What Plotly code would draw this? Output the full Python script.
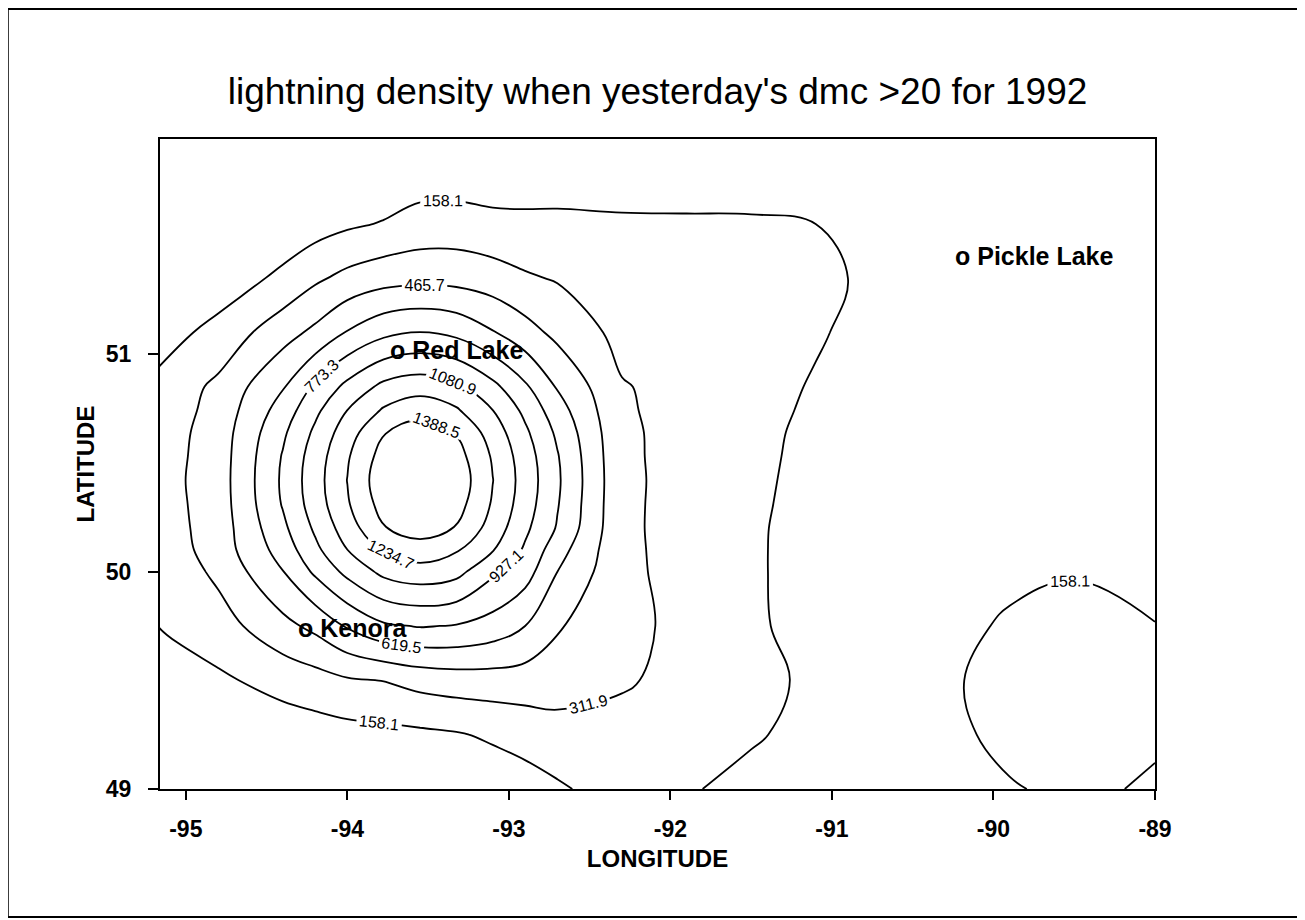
import plotly.graph_objects as go

# grid (longitude west negative, latitude north)
lon = [-95.2, -94.8, -94.4, -94.2, -94.0, -93.775, -93.55, -93.325, -93.1, -92.9,
       -92.7, -92.3, -91.9, -91.5, -91.1, -90.7, -90.3, -89.9, -89.5, -89.0]
lat = [49.0, 49.25, 49.5, 49.75, 50.0, 50.1, 50.2, 50.31, 50.42, 50.53,
       50.64, 50.74, 50.85, 51.1, 51.35, 51.6, 51.8, 52.0]

# lightning density at each grid node, one row per latitude (south to north)
density = [
    [40, 45, 48, 49, 50, 50, 50, 55, 60, 90, 138, 225, 174, 110, 60, 50, 102, 152, 175, 148],
    [45, 53, 73, 88, 103, 116, 128, 146, 181, 218, 249, 255, 215, 176, 108, 66, 138, 179, 205, 169],
    [52, 133, 212, 250, 295, 316, 365, 390, 397, 393, 386, 330, 264, 197, 132, 71, 145, 189, 232, 178],
    [152, 244, 420, 505, 635, 750, 783, 765, 710, 620, 480, 363, 264, 179, 110, 61, 130, 170, 191, 161],
    [175, 345, 615, 800, 969, 1121, 1172, 1130, 955, 840, 620, 346, 261, 176, 107, 45, 90, 138, 152, 123],
    [198, 380, 684, 890, 1080, 1250, 1328, 1250, 1090, 905, 684, 343, 260, 176, 107, 45, 74, 111, 125, 104],
    [222, 380, 739, 951, 1159, 1380, 1450, 1380, 1170, 960, 760, 340, 260, 177, 108, 45, 58, 92, 104, 85],
    [230, 385, 784, 1001, 1218, 1451, 1595, 1451, 1218, 1001, 784, 340, 262, 182, 112, 48, 50, 68, 80, 64],
    [237, 388, 797, 1016, 1238, 1488, 1734, 1488, 1238, 1016, 797, 341, 264, 186, 117, 52, 45, 46, 56, 45],
    [229, 385, 784, 1001, 1218, 1451, 1595, 1451, 1218, 1001, 784, 338, 264, 190, 122, 57, 45, 43, 48, 42],
    [220, 380, 746, 956, 1165, 1380, 1462, 1380, 1165, 956, 746, 336, 265, 194, 127, 62, 45, 40, 40, 40],
    [203, 365, 687, 893, 1084, 1255, 1334, 1255, 1084, 893, 687, 329, 263, 200, 137, 72, 45, 40, 40, 40],
    [185, 346, 607, 799, 969, 1121, 1172, 1121, 969, 799, 607, 322, 262, 205, 147, 82, 45, 40, 40, 40],
    [83, 205, 405, 500, 630, 736, 776, 736, 630, 525, 426, 265, 248, 213, 171, 112, 48, 40, 40, 40],
    [41, 71, 190, 285, 354, 404, 420, 413, 380, 330, 300, 273, 241, 208, 176, 140, 65, 40, 40, 40],
    [40, 41, 61, 90, 133, 168, 216, 222, 200, 195, 198, 186, 185, 180, 158, 45, 40, 40, 40, 40],
    [40, 40, 40, 45, 52, 60, 98, 100, 87, 85, 83, 78, 71, 78, 56, 40, 40, 40, 40, 40],
    [40, 40, 40, 40, 40, 42, 45, 44, 43, 42, 41, 40, 40, 40, 40, 40, 40, 40, 40, 40],
]

# contour levels printed on the map
level_start = 158.1
level_step = 153.8
level_end = 1388.5

towns = ["o Red Lake", "o Kenora", "o Pickle Lake"]
town_lon = [-93.75, -94.32, -90.25]
town_lat = [51.02, 49.74, 51.45]

x_ticks = [-95, -94, -93, -92, -91, -90, -89]
x_labels = ["-95", "-94", "-93", "-92", "-91", "-90", "-89"]
y_ticks = [49, 50, 51]
y_labels = ["49", "50", "51"]

FONT = "Liberation Sans, Arial, sans-serif"

fig = go.Figure()
fig.add_trace(go.Contour(
    x=lon, y=lat, z=density,
    colorscale=[[0, "black"], [1, "black"]],
    showscale=False,
    line=dict(width=1.8, smoothing=1.1),
    contours=dict(
        coloring="lines",
        start=level_start, end=level_end + 1, size=level_step,
        showlabels=True, labelformat=".1f",
        labelfont=dict(family=FONT, size=16, color="black"),
    ),
    hoverinfo="skip",
))

for name, x, y in zip(towns, town_lon, town_lat):
    fig.add_annotation(
        x=x, y=y, text=name, showarrow=False,
        xanchor="left", yanchor="middle",
        font=dict(family=FONT, size=25, color="black", weight="bold"),
    )

# frame around the whole page
fig.add_shape(type="rect", xref="paper", yref="paper",
              x0=-0.153, x1=1.148, y0=-0.197, y1=1.2,
              line=dict(color="black", width=2))

fig.update_layout(
    width=1305, height=920,
    margin=dict(l=152, r=158, t=131, b=139),
    paper_bgcolor="white", plot_bgcolor="white",
    font=dict(family=FONT, color="black"),
    title=dict(text="lightning density when yesterday's dmc >20 for 1992",
               x=0.5, xref="paper", xanchor="center", y=0.91, yanchor="middle",
               font=dict(size=37, color="black")),
    showlegend=False,
)
fig.update_xaxes(
    range=[-95.16, -89.0], tickvals=x_ticks, ticktext=x_labels,
    ticks="outside", ticklen=9, tickwidth=1.5,
    tickcolor="black", showline=True, linecolor="black", linewidth=2, mirror=True,
    showgrid=False, zeroline=False, ticklabelstandoff=9,
    tickfont=dict(size=23, family=FONT, weight="bold"),
    title=dict(text="LONGITUDE", font=dict(size=24, weight="bold"), standoff=10),
)
fig.update_yaxes(
    range=[49.0, 51.99], tickvals=y_ticks, ticktext=y_labels,
    ticks="outside", ticklen=10, tickwidth=1.5,
    tickcolor="black", showline=True, linecolor="black", linewidth=2, mirror=True,
    showgrid=False, zeroline=False, ticklabelstandoff=12,
    tickfont=dict(size=23, family=FONT, weight="bold"),
    title=dict(text="LATITUDE", font=dict(size=24, weight="bold"), standoff=4),
)

fig.write_html("out.html")
